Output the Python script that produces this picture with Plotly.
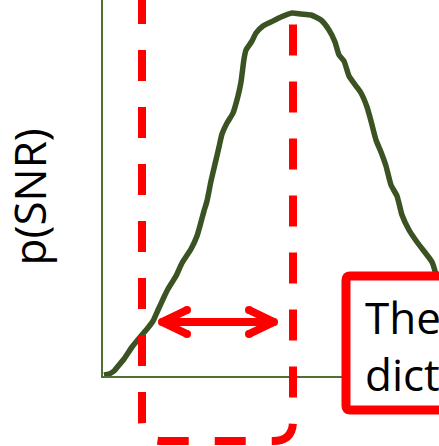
import plotly.graph_objects as go

# Probability density of SNR (arbitrary units) sampled along the SNR axis
snr = [0.1, 0.6, 1.1, 1.6, 2.1, 2.9, 3.8, 4.4, 5.0, 5.5, 6.1, 6.5, 7.3, 7.9, 8.8,
       9.4, 9.8, 10.1, 10.4, 10.8, 11.2, 11.6, 11.9, 12.4, 13.0, 13.5, 13.8, 14.1,
       14.3, 14.9, 15.3, 16.0, 16.8, 17.8, 18.9, 19.8, 20.8, 21.8, 22.6, 23.2,
       23.6, 24.1, 24.6, 25.3, 25.8, 26.4, 26.8, 27.3, 27.8, 28.3, 28.8, 29.4,
       29.9, 30.6, 31.4, 32.4, 32.9, 33.2, 33.5]
density = [0.1, 0.2, 0.5, 1.1, 1.7, 2.9, 4.0, 4.7, 5.5, 6.6, 7.9, 8.7, 10.0, 11.3,
           12.7, 14.0, 15.4, 16.5, 17.5, 19.5, 21.2, 22.9, 24.2, 25.3, 26.3, 28.0,
           29.4, 31.7, 32.6, 33.5, 34.3, 35.0, 35.4, 35.9, 36.3, 36.2, 36.1, 35.6,
           34.6, 33.4, 32.1, 31.5, 30.0, 29.0, 28.3, 26.9, 25.5, 23.6, 22.4, 21.0,
           19.1, 18.0, 16.1, 14.6, 13.4, 12.1, 11.4, 10.5, 9.2]

# Highlighted SNR window and the span marked by the double arrow
window_snr = [3.9, 19.0]
arrow_snr = [5.9, 17.1]
arrow_level = 5.4

axis_title = "p(SNR)"
box_text = "The<br>dict"

W, H = 439, 446
M_L, M_B = 103, 70
X_RANGE = [0, (W - M_L) / 10]
Y_RANGE = [0, (H - M_B) / 10]
PW, PH = W - M_L, H - M_B

RED = "#ff0000"
CURVE = "#3b5323"
AXIS = "#4e7030"
FONT = "Open Sans"


def xp(x):
    return (x - X_RANGE[0]) / (X_RANGE[1] - X_RANGE[0])


def yp(y):
    return (y - Y_RANGE[0]) / (Y_RANGE[1] - Y_RANGE[0])


def pt(x, y):
    return f"{xp(x):.5f},{yp(y):.5f}"


fig = go.Figure()
fig.add_trace(go.Scatter(
    x=snr, y=density, mode="lines",
    line=dict(color=CURVE, width=5.5, shape="spline", smoothing=0.5),
    hoverinfo="skip",
))

shapes = []

# Dashed window with rounded bottom corners
x0, x1 = window_snr
bot, r, top = -6.5, 2.0, 38.3
path = (f"M{pt(x0, top)} L{pt(x0, bot + r)} Q{pt(x0, bot)} {pt(x0 + r, bot)} "
        f"L{pt(x1 - r, bot)} Q{pt(x1, bot)} {pt(x1, bot + r)} L{pt(x1, top + 6)}")
shapes.append(dict(type="path", xref="paper", yref="paper", path=path,
                   line=dict(color=RED, width=8, dash="31px,26px"), layer="above"))

# Double-headed arrow
a0, a1 = arrow_snr
ay = arrow_level
head_len, head_half = 2.5, 1.2
arrow_path = (f"M{pt(a0, ay)} L{pt(a1, ay)} "
              f"M{pt(a0, ay)} L{pt(a0 + head_len, ay + head_half)} "
              f"M{pt(a0, ay)} L{pt(a0 + head_len, ay - head_half)} "
              f"M{pt(a1, ay)} L{pt(a1 - head_len, ay + head_half)} "
              f"M{pt(a1, ay)} L{pt(a1 - head_len, ay - head_half)}")
shapes.append(dict(type="path", xref="paper", yref="paper", path=arrow_path,
                   line=dict(color=RED, width=8), layer="above"))
# rounded caps
cap_r = 4.0
for cx, cy in [(a0, ay), (a1, ay),
               (a0 + head_len, ay + head_half), (a0 + head_len, ay - head_half),
               (a1 - head_len, ay + head_half), (a1 - head_len, ay - head_half)]:
    shapes.append(dict(type="circle", xref="paper", yref="paper",
                       x0=xp(cx) - cap_r / PW, x1=xp(cx) + cap_r / PW,
                       y0=yp(cy) - cap_r / PH, y1=yp(cy) + cap_r / PH,
                       fillcolor=RED, line=dict(width=0), layer="above"))

# Callout box
bx0, bx1, by0, by1, br = 24.3, 36.0, -3.4, 10.0, 0.4
box_path = (f"M{pt(bx0 + br, by1)} L{pt(bx1, by1)} L{pt(bx1, by0)} L{pt(bx0 + br, by0)} "
            f"Q{pt(bx0, by0)} {pt(bx0, by0 + br)} L{pt(bx0, by1 - br)} "
            f"Q{pt(bx0, by1)} {pt(bx0 + br, by1)} Z")
shapes.append(dict(type="path", xref="paper", yref="paper", path=box_path,
                   fillcolor="white", line=dict(color=RED, width=9), layer="above"))

fig.update_layout(
    width=W, height=H,
    margin=dict(l=M_L, r=0, t=0, b=M_B, pad=0),
    paper_bgcolor="white", plot_bgcolor="white",
    showlegend=False,
    shapes=shapes,
    xaxis=dict(range=X_RANGE, showline=True, linecolor=AXIS, linewidth=2,
               showgrid=False, zeroline=False, showticklabels=False, ticks=""),
    yaxis=dict(range=Y_RANGE, showline=True, linecolor=AXIS, linewidth=2,
               showgrid=False, zeroline=False, showticklabels=False, ticks=""),
    annotations=[
        dict(text=axis_title, xref="paper", yref="paper",
             x=(28 - M_L) / PW, y=(H - M_B - 197.5) / PH,
             xanchor="center", yanchor="middle", textangle=-90, showarrow=False,
             font=dict(family=FONT, size=44, color="black")),
        dict(text=box_text, xref="paper", yref="paper",
             x=xp(26.0), y=(H - M_B - 345) / PH, align="left",
             xanchor="left", yanchor="middle", showarrow=False,
             font=dict(family=FONT, size=44, color="black")),
    ],
)

fig.write_html("out.html", config={"displayModeBar": False})
